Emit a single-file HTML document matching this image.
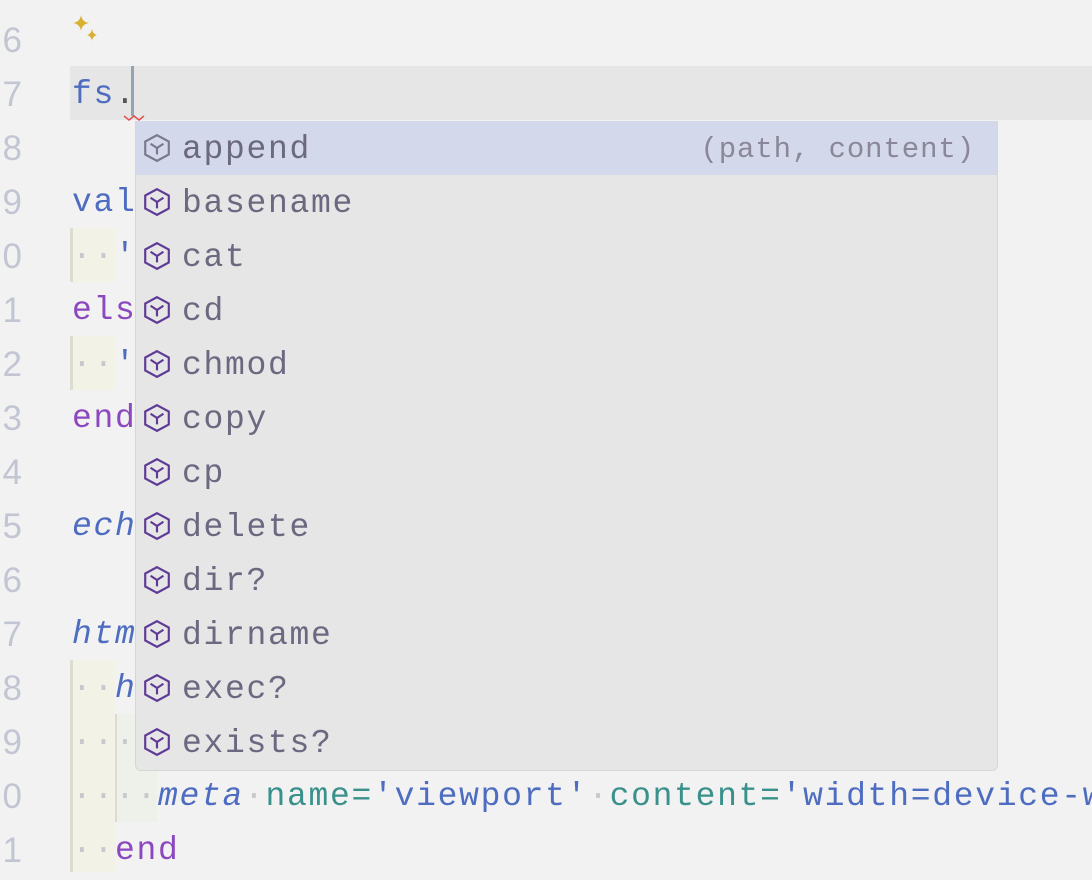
<!DOCTYPE html>
<html><head><meta charset="utf-8"><style>
body{margin:0;width:1092px;height:872px;overflow:hidden;background:#f2f2f2;position:relative;font-family:"Liberation Mono",monospace;font-size:33px;letter-spacing:1.7px;}
.l{position:absolute;height:54px;line-height:58px;white-space:pre;}
.n{position:absolute;left:-10px;width:32px;text-align:right;color:#c2c6d3;height:54px;line-height:58px;font-size:35px;letter-spacing:0;font-family:"Liberation Sans",sans-serif;}
.b{color:#4e6cc0}.p{color:#8c48bf}.t{color:#3a908b}.i{font-style:italic}.d{color:#c8c8cc}
.g{position:absolute;background:#f2f2e6;border-left:3px solid #dcdcd0;}
.pop{position:absolute;left:135px;top:121px;width:861px;height:649px;background:#e6e6e6;border:1px solid #d6d6d6;border-top:none;border-radius:0 0 6px 6px;}
.it{position:absolute;left:0;width:861px;height:54px;line-height:58px;color:#6b6880;white-space:pre;}
.it svg{position:absolute;left:6px;top:12px}
.it span{position:absolute;left:46px}
</style></head><body>
<div style="position:absolute;left:70px;top:66px;width:1022px;height:54px;background:#e6e6e6"></div>
<div class="g" style="left:70px;top:228px;width:42px;height:54px"></div>
<div class="g" style="left:70px;top:336px;width:42px;height:54px"></div>
<div class="g" style="left:70px;top:660px;width:42px;height:212px"></div>
<div style="position:absolute;left:115px;top:714px;width:40px;height:108px;background:#edf1ea;border-left:2px solid #dcdcd0"></div>

<div class="n" style="top:12px">6</div><div class="n" style="top:66px">7</div><div class="n" style="top:120px">8</div><div class="n" style="top:174px">9</div><div class="n" style="top:228px">0</div><div class="n" style="top:282px">1</div><div class="n" style="top:336px">2</div><div class="n" style="top:390px">3</div><div class="n" style="top:444px">4</div><div class="n" style="top:498px">5</div><div class="n" style="top:552px">6</div><div class="n" style="top:606px">7</div><div class="n" style="top:660px">8</div><div class="n" style="top:714px">9</div><div class="n" style="top:768px">0</div><div class="n" style="top:822px">1</div>

<svg style="position:absolute;left:72px;top:14px" width="30" height="30" viewBox="0 0 30 30"><path d="M9 1 Q10 8 17 9 Q10 10 9 17 Q8 10 1 9 Q8 8 9 1Z" fill="#d8b032"/><path d="M20 15 Q20.8 20 25 21 Q20.8 22 20 27 Q19.2 22 15 21 Q19.2 20 20 15Z" fill="#d8b032"/></svg>

<div class="l" style="left:72px;top:66px"><span class="b">fs</span><span style="color:#555">.</span></div>
<div style="position:absolute;left:131px;top:66px;width:3px;height:50px;background:#93a3b3"></div>
<svg style="position:absolute;left:123px;top:114px" width="24" height="8"><path d="M1 2 L6 6 L11 2 L16 6 L21 2" stroke="#e05050" fill="none" stroke-width="1.5"/></svg>
<div class="l b" style="left:72px;top:174px">val</div>
<div class="l" style="left:72px;top:228px"><span class="d">··</span><span class="b">'</span></div>
<div class="l p" style="left:72px;top:282px">els</div>
<div class="l" style="left:72px;top:336px"><span class="d">··</span><span class="b">'</span></div>
<div class="l p" style="left:72px;top:390px">end</div>
<div class="l b i" style="left:72px;top:498px">ech</div>
<div class="l b i" style="left:72px;top:606px">htm</div>
<div class="l" style="left:72px;top:660px"><span class="d">··</span><span class="b i">h</span></div>
<div class="l" style="left:72px;top:714px"><span class="d">···</span></div>
<div class="l" style="left:72px;top:768px"><span class="d">····</span><span class="b i">meta</span><span class="d">·</span><span class="t">name=</span><span class="b">'viewport'</span><span class="d">·</span><span class="t">content=</span><span class="b">'width=device-w</span></div>
<div class="l" style="left:72px;top:822px"><span class="d">··</span><span class="p">end</span></div>

<div class="pop">
<div class="it" style="top:0;background:#d3d9ea"><svg width="30" height="30" viewBox="0 0 28 28"><path d="M14 2 L25 8 L25 20 L14 26 L3 20 L3 8Z M8 10 L14 14 L20 10 M14 14 L14 20" fill="none" stroke="#7a7890" stroke-width="2"/></svg><span>append</span><span style="left:auto;right:22px;color:#8a8898;font-size:29px;letter-spacing:0.9px">(path, content)</span></div>
<div class="it" style="top:54px"><svg width="30" height="30" viewBox="0 0 28 28"><path d="M14 2 L25 8 L25 20 L14 26 L3 20 L3 8Z M8 10 L14 14 L20 10 M14 14 L14 20" fill="none" stroke="#5e3a96" stroke-width="2"/></svg><span>basename</span></div>
<div class="it" style="top:108px"><svg width="30" height="30" viewBox="0 0 28 28"><path d="M14 2 L25 8 L25 20 L14 26 L3 20 L3 8Z M8 10 L14 14 L20 10 M14 14 L14 20" fill="none" stroke="#5e3a96" stroke-width="2"/></svg><span>cat</span></div>
<div class="it" style="top:162px"><svg width="30" height="30" viewBox="0 0 28 28"><path d="M14 2 L25 8 L25 20 L14 26 L3 20 L3 8Z M8 10 L14 14 L20 10 M14 14 L14 20" fill="none" stroke="#5e3a96" stroke-width="2"/></svg><span>cd</span></div>
<div class="it" style="top:216px"><svg width="30" height="30" viewBox="0 0 28 28"><path d="M14 2 L25 8 L25 20 L14 26 L3 20 L3 8Z M8 10 L14 14 L20 10 M14 14 L14 20" fill="none" stroke="#5e3a96" stroke-width="2"/></svg><span>chmod</span></div>
<div class="it" style="top:270px"><svg width="30" height="30" viewBox="0 0 28 28"><path d="M14 2 L25 8 L25 20 L14 26 L3 20 L3 8Z M8 10 L14 14 L20 10 M14 14 L14 20" fill="none" stroke="#5e3a96" stroke-width="2"/></svg><span>copy</span></div>
<div class="it" style="top:324px"><svg width="30" height="30" viewBox="0 0 28 28"><path d="M14 2 L25 8 L25 20 L14 26 L3 20 L3 8Z M8 10 L14 14 L20 10 M14 14 L14 20" fill="none" stroke="#5e3a96" stroke-width="2"/></svg><span>cp</span></div>
<div class="it" style="top:378px"><svg width="30" height="30" viewBox="0 0 28 28"><path d="M14 2 L25 8 L25 20 L14 26 L3 20 L3 8Z M8 10 L14 14 L20 10 M14 14 L14 20" fill="none" stroke="#5e3a96" stroke-width="2"/></svg><span>delete</span></div>
<div class="it" style="top:432px"><svg width="30" height="30" viewBox="0 0 28 28"><path d="M14 2 L25 8 L25 20 L14 26 L3 20 L3 8Z M8 10 L14 14 L20 10 M14 14 L14 20" fill="none" stroke="#5e3a96" stroke-width="2"/></svg><span>dir?</span></div>
<div class="it" style="top:486px"><svg width="30" height="30" viewBox="0 0 28 28"><path d="M14 2 L25 8 L25 20 L14 26 L3 20 L3 8Z M8 10 L14 14 L20 10 M14 14 L14 20" fill="none" stroke="#5e3a96" stroke-width="2"/></svg><span>dirname</span></div>
<div class="it" style="top:540px"><svg width="30" height="30" viewBox="0 0 28 28"><path d="M14 2 L25 8 L25 20 L14 26 L3 20 L3 8Z M8 10 L14 14 L20 10 M14 14 L14 20" fill="none" stroke="#5e3a96" stroke-width="2"/></svg><span>exec?</span></div>
<div class="it" style="top:594px"><svg width="30" height="30" viewBox="0 0 28 28"><path d="M14 2 L25 8 L25 20 L14 26 L3 20 L3 8Z M8 10 L14 14 L20 10 M14 14 L14 20" fill="none" stroke="#5e3a96" stroke-width="2"/></svg><span>exists?</span></div>
</div>
</body></html>
